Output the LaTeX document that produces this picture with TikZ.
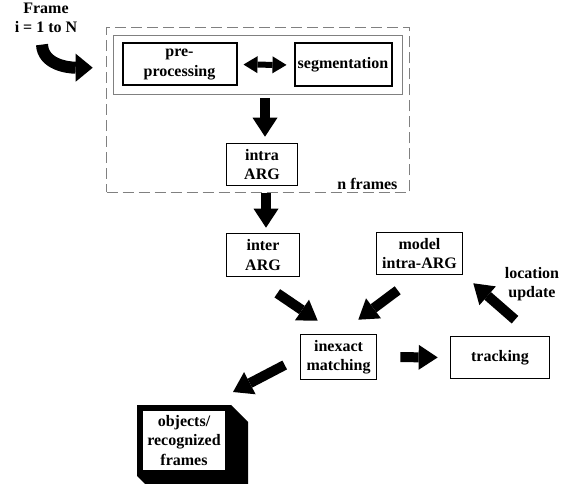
\documentclass[tikz,border=0pt]{standalone}
\usepackage{fontspec}
\setmainfont{Liberation Serif}
\usetikzlibrary{arrows.meta}
\newcommand\lblfont{\fontsize{16}{19.5}\selectfont\bfseries}
\tikzset{
  box/.style = {draw, line width=1.6pt, align=center, inner sep=0pt, font=\lblfont},
  blk/.style = {line width=10pt, -{Triangle[length=19pt, width=25pt, line width=0pt]}},
  dblk/.style = {line width=6pt, {Triangle[length=14pt, width=17pt, line width=0pt]}-{Triangle[length=14pt, width=17pt, line width=0pt]}},
}
\begin{document}
\begin{tikzpicture}[x=1pt, y=-1pt]
  \useasboundingbox (0,0) rectangle (566,484);

  % outer loop over the frames
  \node [draw=gray, dash pattern=on 11pt off 5pt, line width=1.6pt,
         minimum width=303pt, minimum height=165pt, inner sep=0pt] (frames) at (258, 110) {};
  \node [draw=gray, line width=0.9pt, minimum width=289pt, minimum height=59pt, inner sep=0pt] (inner) at (257.5, 64.5) {};
  \node [anchor=base east, font=\lblfont] (nfr) at (401, 190) {n frames};

  \node [font=\lblfont, align=center] (frm) at (46, 18) {Frame\\i = 1 to N};

  \node [box, line width=2pt, minimum width=114pt, minimum height=42pt] (pre) at (179.5, 64.5) {pre-\\processing};
  \node [box, line width=2pt, minimum width=97pt, minimum height=43pt] (seg) at (343, 65) {segmentation};
  \node [box, minimum width=71pt, minimum height=42pt] (intra) at (262, 164.5) {intra\\ARG};

  \node [box, minimum width=73pt, minimum height=43pt] (inter) at (263, 255) {inter\\ARG};
  \node [box, minimum width=86pt, minimum height=42pt] (model) at (419.5, 253.5) {model\\intra-ARG};
  \node [box, minimum width=76pt, minimum height=45pt] (inexact) at (338.5, 357) {inexact\\matching};
  \node [box, minimum width=99pt, minimum height=42pt] (track) at (500, 357.5) {tracking};
  \node [font=\lblfont, align=center] (loc) at (532, 284) {location\\update};

  \node [box, line width=6pt, fill=white, minimum width=88pt, minimum height=65pt] (objects) at (184, 440.5) {objects/\\recognized\\frames};
  \fill (objects.north east) -- ([shift={(17,17)}]objects.north east)
    -- ([shift={(17,17)}]objects.south east) -- ([shift={(17,17)}]objects.south west)
    -- (objects.south west) -- (objects.south east) -- cycle;

  % arrows
  \draw [line width=12pt, -{Triangle[length=17pt, width=28pt, line width=0pt]}]
    ([shift={(-4,8)}]frm.south) .. controls +(1,20) and +(-25,0) .. ([shift={(-13,41)}]frames.north west);
  \draw [dblk, shorten <=6pt, shorten >=7pt] (pre.east) -- (seg.west);
  \draw [blk, shorten <=4pt, shorten >=6pt] ([xshift=3pt]inner.south -| intra.north) -- ([xshift=3pt]intra.north);
  \draw [blk, shorten >=5pt] ([xshift=3pt]frames.south -| inter.north) -- ([xshift=3pt]inter.north);
  \draw [blk] ([shift={(-23,16)}]inter.south east) -- ([shift={(18,-13)}]inexact.north west);
  \draw [blk] ([shift={(22,15)}]model.south west) -- ([shift={(-19,-14)}]inexact.north east);
  \draw [blk, shorten <=23pt, shorten >=12pt] (inexact.east) -- (track.west);
  \draw [blk] ([shift={(15,-16)}]track.north) -- ([shift={(10,8)}]model.south east);
  \draw [blk] ([shift={(-15,8)}]inexact.west) -- ([shift={(2,-13)}]objects.north east);
\end{tikzpicture}
\end{document}
